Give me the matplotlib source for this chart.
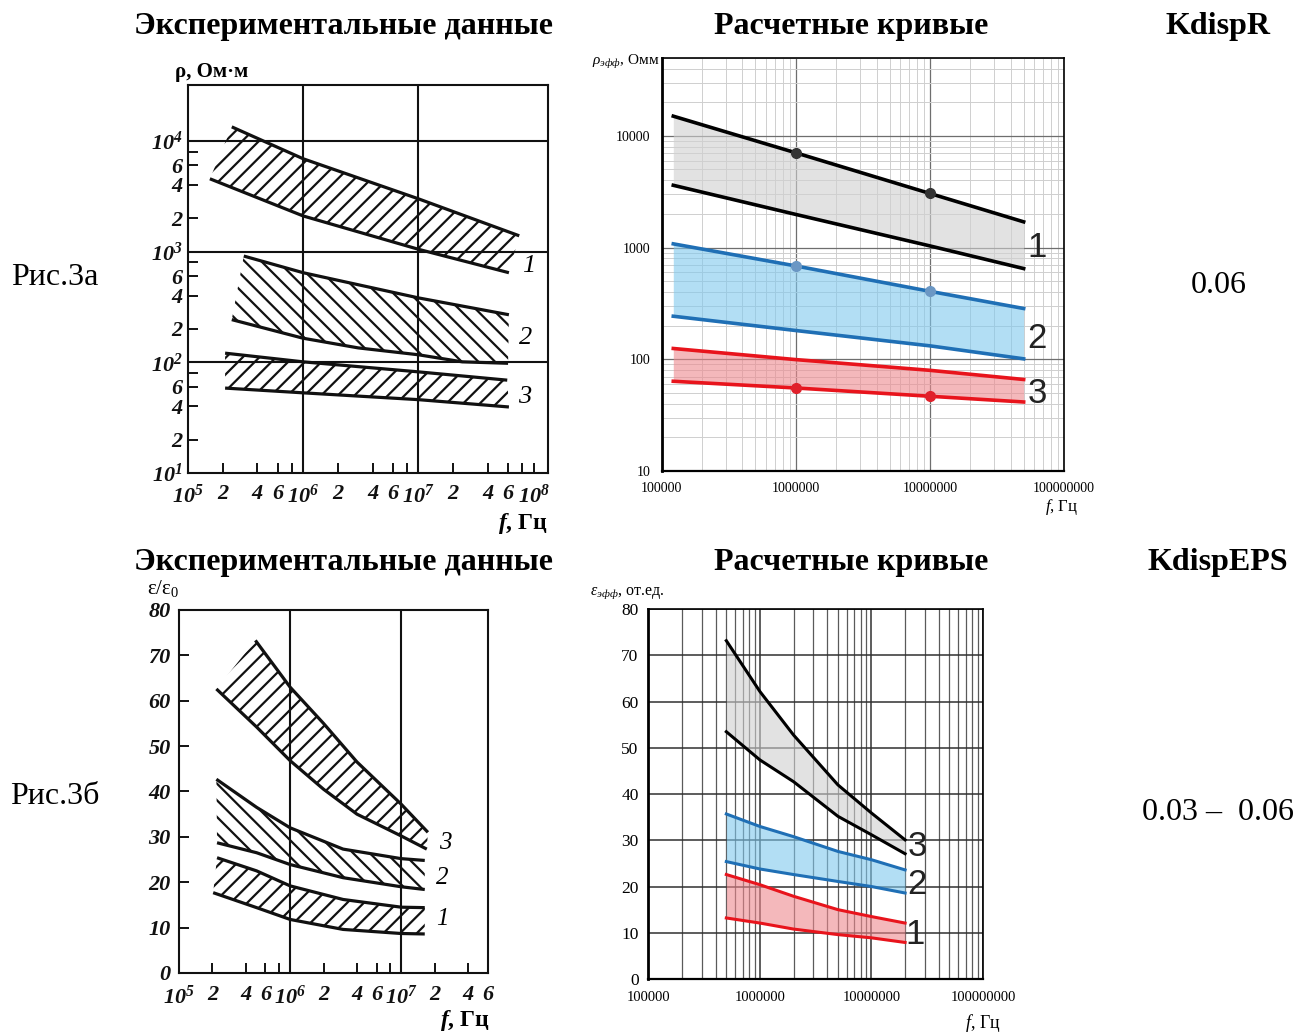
import numpy as np
import matplotlib
matplotlib.use("Agg")
import matplotlib.pyplot as plt
from matplotlib.ticker import NullLocator, LogLocator, NullFormatter

# --- Fig.3a, experimental rho bands (f in Hz, rho in Ohm*m) ---
exp_r1_up_f = [2.4e5, 1e6, 1e7, 7.5e7]
exp_r1_up = [13400, 6900, 3000, 1390]
exp_r1_lo_f = [1.55e5, 1e6, 1e7, 6.1e7]
exp_r1_lo = [4550, 2100, 1050, 645]
exp_r2_up_f = [3.05e5, 1e6, 1e7, 6.1e7]
exp_r2_up = [912, 645, 382, 269]
exp_r2_lo_f = [2.4e5, 1e6, 3e6, 1e7, 2.4e7, 6e7]
exp_r2_lo = [243, 165, 135, 117, 101, 98]
exp_r3_up_f = [2.1e5, 1e6, 1e7, 5.9e7]
exp_r3_up = [121, 101, 82, 69]
exp_r3_lo_f = [2.1e5, 1e6, 1e7, 6.1e7]
exp_r3_lo = [58.5, 53, 46, 39.5]

# --- Fig.3a, calculated rho curves ---
calc_r_f = [1.22e5, 1e6, 1e7, 5e7]
calc_r1_up = [15000, 7050, 3050, 1700]
calc_r1_lo = [3610, 1980, 1035, 649]
calc_r2_up = [1080, 685, 406, 285]
calc_r2_lo = [243, 181, 132, 101]
calc_r3_up = [125, 99.4, 79.7, 66]
calc_r3_lo = [63.6, 55.4, 46.7, 41.5]
dot_f = [1e6, 1e7]
dot_r1 = [7050, 3050]
dot_r2 = [685, 406]
dot_r3 = [55.4, 46.7]

# --- Fig.3b, experimental eps bands ---
exp_e3_up_f = [4.87e5, 1e6, 2e6, 4e6, 1e7, 1.74e7]
exp_e3_up = [73.3, 63, 55, 46.5, 37.2, 31]
exp_e3_lo_f = [2.17e5, 5e5, 1e6, 2e6, 4e6, 1e7, 1.7e7]
exp_e3_lo = [62.6, 54.2, 46.8, 40.5, 35, 30.2, 27.3]
exp_e2_up_f = [2.17e5, 5e5, 1e6, 3e6, 1e7, 1.63e7]
exp_e2_up = [42.7, 36.5, 32.0, 27.3, 25.2, 24.8]
exp_e2_lo_f = [2.2e5, 5e5, 1e6, 3e6, 1e7, 1.63e7]
exp_e2_lo = [28.7, 26.5, 23.9, 21.0, 19.0, 18.4]
exp_e1_up_f = [2.2e5, 5e5, 1e6, 3e6, 1e7, 1.63e7]
exp_e1_up = [25.4, 22.5, 19.2, 16.2, 14.5, 14.4]
exp_e1_lo_f = [2.03e5, 5e5, 1e6, 3e6, 1e7, 1.63e7]
exp_e1_lo = [17.7, 14.4, 11.8, 9.6, 8.7, 8.6]

# --- Fig.3b, calculated eps curves ---
calc_e_f = [5e5, 1e6, 2e6, 5e6, 1e7, 2e7]
calc_e3_up = [73.2, 62.2, 52.8, 42, 35.9, 30.1]
calc_e3_lo = [53.5, 47.4, 42.7, 35.2, 31.2, 27.1]
calc_e2_up = [35.7, 33, 30.8, 27.6, 25.8, 23.6]
calc_e2_lo = [25.4, 23.8, 22.6, 21.1, 20, 18.6]
calc_e1_up = [22.6, 20.4, 17.9, 15, 13.5, 12.1]
calc_e1_lo = [13.2, 12.1, 10.8, 9.6, 8.9, 7.9]

# --- tick labels ---
exp_x_ticks = [1e5, 2e5, 4e5, 6e5, 8e5, 1e6, 2e6, 4e6, 6e6, 8e6,
               1e7, 2e7, 4e7, 6e7, 8e7, 1e8]
exp_x_labels = [r"$\mathbf{10^{5}}$", "2", "4", "6", "", r"$\mathbf{10^{6}}$", "2", "4", "6", "",
                r"$\mathbf{10^{7}}$", "2", "4", "6", "", r"$\mathbf{10^{8}}$"]
exp_r_ticks = [10, 20, 40, 60, 80, 100, 200, 400, 600, 800,
               1000, 2000, 4000, 6000, 8000, 10000]
exp_r_labels = [r"$\mathbf{10^{1}}$", "2", "4", "6", "", r"$\mathbf{10^{2}}$", "2", "4", "6", "",
                r"$\mathbf{10^{3}}$", "2", "4", "6", "", r"$\mathbf{10^{4}}$"]
exp_e_x_ticks = [1e5, 2e5, 4e5, 6e5, 8e5, 1e6, 2e6, 4e6, 6e6, 8e6, 1e7, 2e7, 4e7, 6e7]
exp_e_x_labels = [r"$\mathbf{10^{5}}$", "2", "4", "6", "", r"$\mathbf{10^{6}}$", "2", "4", "6", "",
                  r"$\mathbf{10^{7}}$", "2", "4", "6"]
exp_e_ticks = [0, 10, 20, 30, 40, 50, 60, 70, 80]
exp_e_labels = ["0", "10", "20", "30", "40", "50", "60", "70", "80"]
calc_x_ticks = [1e5, 1e6, 1e7, 1e8]
calc_x_labels = ["100000", "1000000", "10000000", "100000000"]
calc_r_ticks = [10, 100, 1000, 10000]
calc_r_labels = ["10", "100", "1000", "10000"]
calc_e_ticks = [0, 10, 20, 30, 40, 50, 60, 70, 80]
calc_e_labels = ["0", "10", "20", "30", "40", "50", "60", "70", "80"]

exp_r_grid_x = [1e6, 1e7]
exp_r_grid_y = [100, 1000, 10000]
exp_e_grid_x = [1e6, 1e7]

plt.rcParams["font.family"] = ["Liberation Serif", "DejaVu Serif"]
plt.rcParams["mathtext.fontset"] = "custom"
plt.rcParams["mathtext.rm"] = "Liberation Serif"
plt.rcParams["mathtext.it"] = "Liberation Serif:italic"
plt.rcParams["mathtext.bf"] = "Liberation Serif:bold:italic"
plt.rcParams["hatch.linewidth"] = 1.6
plt.rcParams["hatch.color"] = "#111111"

fig = plt.figure(figsize=(12.99, 10.33), dpi=100)
fig.patch.set_facecolor("white")


def hatched_band(ax, f_up, v_up, f_lo, v_lo, hatch):
    xs = list(f_up) + list(f_lo)[::-1]
    ys = list(v_up) + list(v_lo)[::-1]
    ax.fill(xs, ys, facecolor="none", edgecolor="#111111", linewidth=0, hatch=hatch)
    ax.plot(f_up, v_up, color="#111111", lw=2.3, solid_capstyle="butt")
    ax.plot(f_lo, v_lo, color="#111111", lw=2.3, solid_capstyle="butt")


def style_exp_axes(ax, fs):
    for s in ax.spines.values():
        s.set_linewidth(1.5)
        s.set_color("#111111")
    ax.xaxis.set_minor_locator(NullLocator())
    ax.yaxis.set_minor_locator(NullLocator())
    ax.tick_params(which="both", direction="in", length=7, width=1.4, pad=5,
                   colors="#111111", labelsize=fs)


def style_calc_axes(ax):
    for s in ax.spines.values():
        s.set_linewidth(1.2)
        s.set_color("black")
    ax.spines["left"].set_linewidth(2.0)
    ax.spines["bottom"].set_linewidth(1.6)
    ax.tick_params(which="both", length=0, labelsize=10, pad=8)


# ---------------- Fig.3a experimental ----------------
ax1 = fig.add_axes([0.1447, 0.5421, 0.2771, 0.3756])
ax1.set_xscale("log")
ax1.set_yscale("log")
ax1.set_xlim(1e5, 1.33e8)
ax1.set_ylim(10, 3.2e4)
for v in exp_r_grid_x:
    ax1.axvline(v, color="#111111", lw=1.5)
for v in exp_r_grid_y:
    ax1.axhline(v, color="#111111", lw=1.5)
hatched_band(ax1, exp_r1_up_f, exp_r1_up, exp_r1_lo_f, exp_r1_lo, "//")
hatched_band(ax1, exp_r2_up_f, exp_r2_up, exp_r2_lo_f, exp_r2_lo, "\\\\")
hatched_band(ax1, exp_r3_up_f, exp_r3_up, exp_r3_lo_f, exp_r3_lo, "//")
style_exp_axes(ax1, 16)
ax1.set_xticks(exp_x_ticks, exp_x_labels, fontweight="bold", fontstyle="italic")
ax1.set_yticks(exp_r_ticks, exp_r_labels, fontweight="bold", fontstyle="italic")
ax1.tick_params(axis="x", pad=8)
ax1.tick_params(axis="y", pad=4)
ax1.text(9e7, 740, "1", fontsize=19, fontstyle="italic", ha="center", va="center")
ax1.text(8.6e7, 165, "2", fontsize=19, fontstyle="italic", ha="center", va="center")
ax1.text(8.3e7, 49, "3", fontsize=19, fontstyle="italic", ha="center", va="center")
ax1.text(-0.036, 1.034, "ρ, Ом·м", transform=ax1.transAxes, fontsize=15,
         fontweight="bold", ha="left", va="center")
ax1.text(1.0, -0.13, r"$\mathbf{f}$, Гц", transform=ax1.transAxes, fontsize=17,
         fontweight="bold", ha="right", va="center")

# ---------------- Fig.3a calculated ----------------
ax2 = fig.add_axes([0.5094, 0.544, 0.3097, 0.4001])
ax2.set_xscale("log")
ax2.set_yscale("log")
ax2.set_xlim(1e5, 1e8)
ax2.set_ylim(10, 5e4)
ax2.xaxis.set_minor_locator(LogLocator(base=10, subs=range(2, 10)))
ax2.yaxis.set_minor_locator(LogLocator(base=10, subs=range(2, 10)))
ax2.xaxis.set_minor_formatter(NullFormatter())
ax2.yaxis.set_minor_formatter(NullFormatter())
ax2.grid(True, which="major", color="#6e6e6e", lw=0.9)
ax2.grid(True, which="minor", color="#cfcfcf", lw=0.7)
ax2.set_axisbelow(True)
ax2.fill_between(calc_r_f, calc_r1_lo, calc_r1_up, color="#d0d0d0", alpha=0.6, lw=0)
ax2.fill_between(calc_r_f, calc_r2_lo, calc_r2_up, color="#7fc8ed", alpha=0.6, lw=0)
ax2.fill_between(calc_r_f, calc_r3_lo, calc_r3_up, color="#ee898e", alpha=0.6, lw=0)
ax2.plot(calc_r_f, calc_r1_up, color="black", lw=2.6)
ax2.plot(calc_r_f, calc_r1_lo, color="black", lw=2.6)
ax2.plot(calc_r_f, calc_r2_up, color="#1f6fb5", lw=2.6)
ax2.plot(calc_r_f, calc_r2_lo, color="#1f6fb5", lw=2.6)
ax2.plot(calc_r_f, calc_r3_up, color="#e8141c", lw=2.6)
ax2.plot(calc_r_f, calc_r3_lo, color="#e8141c", lw=2.6)
ax2.plot(dot_f, dot_r1, "o", color="#333333", ms=7, zorder=5)
ax2.plot(dot_f, dot_r2, "o", color="#6b97c4", ms=7, zorder=5)
ax2.plot(dot_f, dot_r3, "o", color="#e0202a", ms=7, zorder=5)
style_calc_axes(ax2)
ax2.set_xticks(calc_x_ticks, calc_x_labels)
ax2.set_yticks(calc_r_ticks, calc_r_labels)
for lbl, yv in zip(["1", "2", "3"], [1000, 153, 49]):
    ax2.text(6.3e7, yv, lbl, fontsize=25, family="Liberation Sans", color="#222222",
             ha="center", va="center")
ax2.text(-0.173, 0.99, r"$\rho_{эфф}$, Омм", transform=ax2.transAxes, fontsize=11,
         ha="left", va="center")
ax2.text(0.995, -0.087, r"$f$, Гц", transform=ax2.transAxes, fontsize=12,
         ha="center", va="center")

# ---------------- Fig.3b experimental ----------------
ax3 = fig.add_axes([0.1378, 0.0581, 0.2379, 0.3514])
ax3.set_xscale("log")
ax3.set_xlim(1e5, 6.05e7)
ax3.set_ylim(0, 80)
for v in exp_e_grid_x:
    ax3.axvline(v, color="#111111", lw=1.5)
hatched_band(ax3, exp_e3_up_f, exp_e3_up, exp_e3_lo_f, exp_e3_lo, "//")
hatched_band(ax3, exp_e2_up_f, exp_e2_up, exp_e2_lo_f, exp_e2_lo, "\\\\")
hatched_band(ax3, exp_e1_up_f, exp_e1_up, exp_e1_lo_f, exp_e1_lo, "//")
style_exp_axes(ax3, 16)
ax3.set_xticks(exp_e_x_ticks, exp_e_x_labels, fontweight="bold", fontstyle="italic")
ax3.set_yticks(exp_e_ticks, exp_e_labels, fontweight="bold", fontstyle="italic")
ax3.tick_params(axis="x", pad=9)
ax3.tick_params(axis="y", pad=6)
ax3.text(2.5e7, 28.7, "3", fontsize=18, fontstyle="italic", ha="center", va="center")
ax3.text(2.35e7, 21.0, "2", fontsize=18, fontstyle="italic", ha="center", va="center")
ax3.text(2.35e7, 11.8, "1", fontsize=18, fontstyle="italic", ha="center", va="center")
ax3.text(-0.104, 1.06, r"ε/ε$_0$", transform=ax3.transAxes, fontsize=15,
         ha="left", va="center")
ax3.text(1.006, -0.13, r"$\mathbf{f}$, Гц", transform=ax3.transAxes, fontsize=17,
         fontweight="bold", ha="right", va="center")

# ---------------- Fig.3b calculated ----------------
ax4 = fig.add_axes([0.4991, 0.0523, 0.2577, 0.3579])
ax4.set_xscale("log")
ax4.set_xlim(1e5, 1e8)
ax4.set_ylim(0, 80)
ax4.xaxis.set_minor_locator(LogLocator(base=10, subs=range(2, 10)))
ax4.xaxis.set_minor_formatter(NullFormatter())
ax4.grid(True, which="major", color="#303030", lw=1.1)
ax4.grid(True, which="minor", axis="x", color="#5a5a5a", lw=0.9)
ax4.set_axisbelow(True)
ax4.fill_between(calc_e_f, calc_e3_lo, calc_e3_up, color="#d0d0d0", alpha=0.6, lw=0)
ax4.fill_between(calc_e_f, calc_e2_lo, calc_e2_up, color="#7fc8ed", alpha=0.6, lw=0)
ax4.fill_between(calc_e_f, calc_e1_lo, calc_e1_up, color="#ee898e", alpha=0.6, lw=0)
ax4.plot(calc_e_f, calc_e3_up, color="black", lw=2.2)
ax4.plot(calc_e_f, calc_e3_lo, color="black", lw=2.2)
ax4.plot(calc_e_f, calc_e2_up, color="#1f6fb5", lw=2.2)
ax4.plot(calc_e_f, calc_e2_lo, color="#1f6fb5", lw=2.2)
ax4.plot(calc_e_f, calc_e1_up, color="#e8141c", lw=2.2)
ax4.plot(calc_e_f, calc_e1_lo, color="#e8141c", lw=2.2)
style_calc_axes(ax4)
ax4.set_xticks(calc_x_ticks, calc_x_labels)
ax4.set_yticks(calc_e_ticks, calc_e_labels)
ax4.tick_params(axis="x", labelsize=10.5, pad=9)
ax4.tick_params(axis="y", labelsize=12.5, pad=7)
for lbl, xv, yv in zip(["3", "2", "1"], [2.6e7, 2.53e7, 2.44e7], [28.7, 20.4, 9.6]):
    ax4.text(xv, yv, lbl, fontsize=25, family="Liberation Sans", color="#222222",
             ha="center", va="center")
ax4.text(-0.174, 1.044, r"$\varepsilon_{эфф}$, от.ед.", transform=ax4.transAxes,
         fontsize=11.5, ha="left", va="center")
ax4.text(1.0, -0.119, r"$f$, Гц", transform=ax4.transAxes, fontsize=13,
         ha="center", va="center")

# ---------------- table texts ----------------
for yv in [0.9739, 0.455]:
    fig.text(0.2648, yv, "Экспериментальные данные", fontsize=23, fontweight="bold",
             ha="center", va="center")
    fig.text(0.6551, yv, "Расчетные кривые", fontsize=23, fontweight="bold",
             ha="center", va="center")
fig.text(0.9376, 0.9739, "KdispR", fontsize=23, fontweight="bold", ha="center", va="center")
fig.text(0.9376, 0.455, "KdispEPS", fontsize=23, fontweight="bold", ha="center", va="center")
fig.text(0.0423, 0.7318, "Рис.3а", fontsize=23, ha="center", va="center")
fig.text(0.0423, 0.2285, "Рис.3б", fontsize=23, ha="center", va="center")
fig.text(0.9384, 0.7241, "0.06", fontsize=23, ha="center", va="center")
fig.text(0.9376, 0.2139, "0.03 –  0.06", fontsize=23, ha="center", va="center")

fig.savefig("out.png", dpi=100, facecolor="white")
